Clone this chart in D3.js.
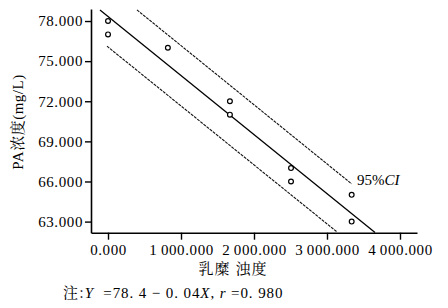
<!DOCTYPE html>
<html><head><meta charset="utf-8">
<script src="https://cdn.jsdelivr.net/npm/d3@7"></script>
<style>
body{margin:0;background:#fff;}
text{font-family:"Liberation Serif","Times New Roman",serif;fill:#000;}
.cjk{font-family:"Noto Serif CJK SC","Noto Sans CJK SC",serif;}
</style></head>
<body><svg id="c" width="448" height="308"></svg>
<script>
// Data
const turbidity = [0, 0, 820, 1670, 1670, 2507, 2507, 3338, 3338];
const paConc    = [78, 77, 76, 72, 71, 67, 66, 65, 63];
const fitLineX = [-110, 3658];
const fitLineY = [78.83, 62.18];
const ciUpperX = [397, 3338];
const ciUpperY = [78.83, 65.82];
const ciLowerX = [-14, 3132];
const ciLowerY = [76.12, 62.25];
const xTicks = [0, 1000, 2000, 3000, 4000];
const yTicks = [63, 66, 69, 72, 75, 78];
const xDomain = [-233, 4233];
const yDomain = [62.17, 78.9];

const svg = d3.select("#c");
const x = d3.scaleLinear().domain(xDomain).range([91, 417]);
const y = d3.scaleLinear().domain(yDomain).range([232.7, 9]);
const loc = d3.formatLocale({decimal: ".", thousands: "\u2009", grouping: [3], currency: ["", ""]});
const fmt = loc.format(",.3f");

// axes
const xAxis = d3.axisBottom(x).tickValues(xTicks).tickFormat(fmt).tickSize(7).tickSizeOuter(0);
const yAxis = d3.axisLeft(y).tickValues(yTicks).tickFormat(d3.format(".3f")).tickSize(6).tickSizeOuter(0);
const gx = svg.append("g").attr("transform", "translate(0,232.7)").call(xAxis);
const gy = svg.append("g").attr("transform", "translate(91,0)").call(yAxis);
[gx, gy].forEach(g => {
  g.select(".domain").attr("stroke", "#000").attr("stroke-width", 1.6);
  g.selectAll(".tick line").attr("stroke", "#000").attr("stroke-width", 1.4);
  g.selectAll(".tick text").attr("font-family", "'Liberation Serif','Times New Roman',serif")
    .attr("font-size", 15).attr("fill", "#000").style("letter-spacing", "0.6px");
});
gx.selectAll(".tick text").attr("dy", "0.95em").attr("y", 8);
gy.selectAll(".tick text").attr("x", -8);

// lines
const line = d3.line().x(d => x(d[0])).y(d => y(d[1]));
svg.append("path").datum(d3.zip(fitLineX, fitLineY)).attr("d", line)
  .attr("fill", "none").attr("stroke", "#000").attr("stroke-width", 1.3);
[[ciUpperX, ciUpperY], [ciLowerX, ciLowerY]].forEach(([xs, ys]) => {
  svg.append("path").datum(d3.zip(xs, ys)).attr("d", line)
    .attr("fill", "none").attr("stroke", "#111").attr("stroke-width", 1.1)
    .attr("stroke-dasharray", "3,1");
});

// points
svg.append("g").selectAll("circle").data(d3.zip(turbidity, paConc)).join("circle")
  .attr("cx", d => x(d[0])).attr("cy", d => y(d[1])).attr("r", 2.4)
  .attr("fill", "#fff").attr("stroke", "#000").attr("stroke-width", 1.2);

// CI label
const ci = svg.append("text").attr("x", 357).attr("y", 185).attr("font-size", 15);
ci.append("tspan").text("95%");
ci.append("tspan").attr("font-style", "italic").text("CI");

// axis titles
svg.append("text").attr("transform", "translate(23,122) rotate(-90)").attr("text-anchor", "middle")
  .attr("font-size", 15).style("letter-spacing", "0.5px")
  .html('<tspan>PA</tspan><tspan class="cjk">浓度</tspan><tspan>(mg/L)</tspan>');
svg.append("text").attr("class", "cjk").attr("x", 233).attr("y", 274).attr("text-anchor", "middle")
  .attr("font-size", 15).style("letter-spacing", "1px").text("乳糜 浊度");

// note
const note = svg.append("text").attr("x", 63).attr("y", 298).attr("font-size", 15).style("letter-spacing", "0.9px");
note.append("tspan").attr("class", "cjk").text("注:");
note.append("tspan").attr("font-style", "italic").text("Y");
note.append("tspan").text("\u00a0\u00a0=78. 4 \u2212 0. 04");
note.append("tspan").attr("font-style", "italic").text("X");
note.append("tspan").text(", ");
note.append("tspan").attr("font-style", "italic").text("r");
note.append("tspan").text(" =0. 980");
</script></body></html>
